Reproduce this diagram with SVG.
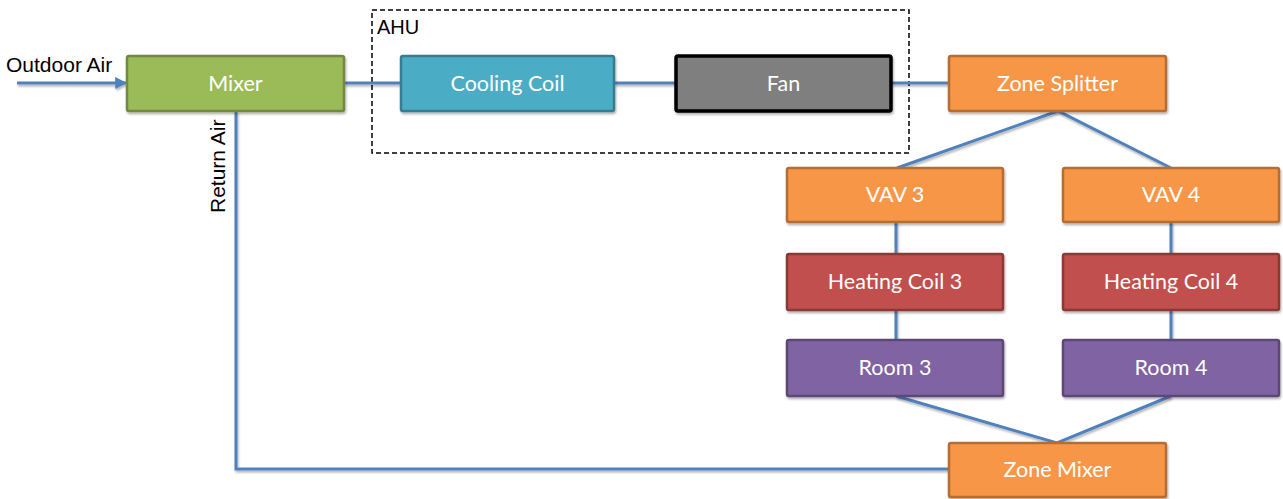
<svg xmlns="http://www.w3.org/2000/svg" width="1283" height="499" viewBox="0 0 1283 499">
  <style>
    .node rect { stroke-width: 2.5; filter: url(#shadow); }
    .node text { font-family: Lato, "Open Sans", sans-serif; font-size: 21.5px; fill: #ffffff; text-anchor: middle; }
    .green rect { fill: #9BBB59; stroke: #71893F; }
    .teal rect { fill: #4BACC6; stroke: #357D91; }
    .grey rect { fill: #7F7F7F; stroke: #000000; stroke-width: 3.5; }
    .orange rect { fill: #F79646; stroke: #B66D31; }
    .red rect { fill: #C0504D; stroke: #8C3836; }
    .purple rect { fill: #8064A2; stroke: #5C4776; }
    .wire { fill: none; stroke: #4F81BD; stroke-width: 3; }
    .label { font-family: "Liberation Sans", Arial, sans-serif; font-size: 21px; fill: #000000; }
  </style>
  <defs>
    <filter id="shadow" x="-10%" y="-10%" width="120%" height="130%">
      <feDropShadow dx="1" dy="2" stdDeviation="1.2" flood-color="#000000" flood-opacity="0.3"/>
    </filter>
    <filter id="wire-shadow" filterUnits="userSpaceOnUse" x="0" y="0" width="1283" height="499">
      <feDropShadow dx="1" dy="2" stdDeviation="1.2" flood-color="#000000" flood-opacity="0.3"/>
    </filter>
    <marker id="arrow" viewBox="0 0 10 10" refX="9" refY="5" markerWidth="4" markerHeight="4" orient="auto" markerUnits="strokeWidth">
      <path d="M0,0 L10,5 L0,10 z" fill="#4F81BD"/>
    </marker>
  </defs>

  <!-- air handling unit boundary -->
  <g id="ahu">
    <rect x="372" y="10" width="537" height="143" fill="none" stroke="#000000" stroke-width="1.5" stroke-dasharray="5,3"/>
    <text class="label" x="377" y="34" style="font-size:20px">AHU</text>
  </g>

  <!-- duct connections -->
  <g id="connectors" filter="url(#wire-shadow)">
    <line class="wire" x1="17" y1="83" x2="126" y2="83" marker-end="url(#arrow)"/>
    <line class="wire" x1="344" y1="83" x2="401" y2="83"/>
    <line class="wire" x1="614" y1="83" x2="676" y2="83"/>
    <line class="wire" x1="891" y1="83" x2="948" y2="83"/>
    <polyline class="wire" points="897,168 1058,111 1171,168"/>
    <line class="wire" x1="896" y1="222" x2="896" y2="254"/>
    <line class="wire" x1="1171" y1="222" x2="1171" y2="254"/>
    <line class="wire" x1="896" y1="310" x2="896" y2="340"/>
    <line class="wire" x1="1171" y1="310" x2="1171" y2="340"/>
    <polyline class="wire" points="896,396 1057,443 1171,396"/>
    <polyline class="wire" points="236,111 236,469 949,469"/>
  </g>

  <text class="label" x="6" y="72">Outdoor Air</text>
  <text class="label" transform="translate(225,213) rotate(-90)">Return Air</text>

  <g id="mixer" class="node green">
    <rect x="127" y="56" width="217" height="55" rx="2"/>
    <text x="235.5" y="91">Mixer</text>
  </g>
  <g id="cooling-coil" class="node teal">
    <rect x="401" y="56" width="213" height="55" rx="2"/>
    <text x="507.5" y="91">Cooling Coil</text>
  </g>
  <g id="fan" class="node grey">
    <rect x="676" y="56" width="215" height="55" rx="2"/>
    <text x="783.5" y="91">Fan</text>
  </g>
  <g id="zone-splitter" class="node orange">
    <rect x="949" y="56" width="217" height="55" rx="2"/>
    <text x="1057.5" y="91">Zone Splitter</text>
  </g>
  <g id="vav3" class="node orange">
    <rect x="787" y="168" width="216" height="54" rx="2"/>
    <text x="895" y="202">VAV 3</text>
  </g>
  <g id="vav4" class="node orange">
    <rect x="1063" y="168" width="216" height="54" rx="2"/>
    <text x="1171" y="202">VAV 4</text>
  </g>
  <g id="heating-coil-3" class="node red">
    <rect x="787" y="254" width="216" height="56" rx="2"/>
    <text x="895" y="289">Heating Coil 3</text>
  </g>
  <g id="heating-coil-4" class="node red">
    <rect x="1063" y="254" width="216" height="56" rx="2"/>
    <text x="1171" y="289">Heating Coil 4</text>
  </g>
  <g id="room3" class="node purple">
    <rect x="787" y="340" width="216" height="56" rx="2"/>
    <text x="895" y="375">Room 3</text>
  </g>
  <g id="room4" class="node purple">
    <rect x="1063" y="340" width="216" height="56" rx="2"/>
    <text x="1171" y="375">Room 4</text>
  </g>
  <g id="zone-mixer" class="node orange">
    <rect x="949" y="443" width="217" height="54" rx="2"/>
    <text x="1057.5" y="477">Zone Mixer</text>
  </g>
</svg>
